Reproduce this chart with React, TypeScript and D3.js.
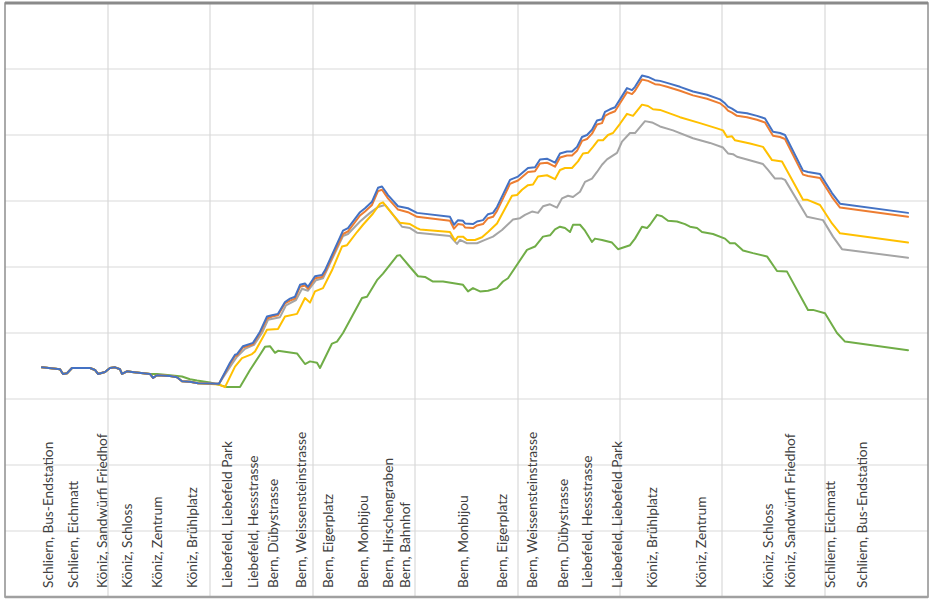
import React from "react";
import * as d3 from "d3";

type Pt = [number, number];

// x: position along the route (distance units), y: value (axis 0..900)
const blueSeries: Pt[] = [
  [0,348],[18,345],[21,338],[25,339],[30,347],[48,347],[53,344],[56,338],[63,341],[68,347],[73,348],[78,345],[80,338],[85,342],[90,341],[108,338],[111,332],[115,336],[128,335],[135,333],[140,327],[148,326],[156,324],[177,323],
  [188,355],[193,367],[195,368],[201,380],[211,385],[218,402],[225,425],[230,427],[236,429],[243,447],[248,452],[253,455],[258,473],[263,475],[266,470],[273,486],[280,488],[283,495],[301,555],[306,559],[318,583],[323,589],[330,599],[336,620],[340,622],[346,609],[356,592],[366,589],[375,582],
  [408,576],[412,564],[416,571],[421,570],[423,566],[431,565],[435,569],[441,571],[446,580],[451,582],[455,591],[468,632],[471,634],[476,637],[486,650],[493,651],[498,663],[505,664],[508,662],[513,658],[518,672],[525,675],[530,675],[535,682],[540,697],[545,700],[550,708],[555,722],[560,724],[563,735],[568,739],[573,742],[578,754],
  [585,771],[590,768],[593,773],[600,790],[606,788],[613,783],[618,782],[625,779],[638,773],[651,766],[665,761],[678,754],[683,748],[686,743],[690,740],[695,735],[705,733],[715,729],[723,725],[731,705],[738,703],[743,700],[761,646],[766,644],[778,641],[790,612],[798,596],[866,582]
];

const orangeSeries: Pt[] = [
  [0,348],[18,345],[21,338],[25,339],[30,347],[48,347],[53,344],[56,338],[63,341],[68,347],[73,348],[78,345],[80,338],[85,342],[90,341],[108,338],[111,332],[115,336],[128,335],[135,333],[140,327],[148,326],[156,324],[177,323],
  [188,353],[193,365],[195,366],[201,378],[211,383],[218,400],[225,422],[230,425],[236,427],[243,445],[248,449],[253,452],[258,470],[263,472],[266,467],[273,483],[280,485],[283,492],[301,550],[306,554],[318,578],[323,584],[330,594],[336,615],[340,617],[346,604],[356,587],[366,583],[375,576],
  [408,570],[412,558],[416,565],[421,564],[423,560],[431,559],[435,563],[441,565],[446,574],[451,576],[455,585],[468,626],[471,628],[476,631],[486,644],[493,645],[498,657],[505,658],[508,656],[513,652],[518,666],[525,669],[530,669],[535,676],[540,691],[545,694],[550,702],[555,716],[560,718],[563,729],[568,733],[573,736],[578,748],
  [585,765],[590,762],[593,767],[600,784],[606,782],[613,777],[618,776],[625,773],[638,767],[651,760],[665,755],[678,748],[683,742],[686,737],[690,734],[695,729],[705,727],[715,723],[723,719],[731,699],[738,697],[743,694],[761,640],[766,638],[778,635],[790,606],[798,590],[866,576]
];

const yellowSeries: Pt[] = [
  [0,348],[18,345],[21,338],[25,339],[30,347],[48,347],[53,344],[56,338],[63,341],[68,347],[73,348],[78,345],[80,338],[85,342],[90,341],[108,338],[111,332],[115,336],[128,335],[135,333],[140,327],[148,326],[156,324],[177,322],
  [183,318],[193,349],[200,362],[210,368],[213,372],[225,405],[236,406],[243,425],[255,429],[263,453],[268,446],[273,463],[281,468],[290,495],[300,531],[305,533],[315,553],[321,564],[331,581],[338,596],[341,598],[350,581],[358,567],[368,565],[375,559],[378,557],
  [408,553],[413,540],[416,546],[421,546],[425,541],[433,541],[440,545],[446,553],[455,566],[470,608],[475,609],[480,617],[486,624],[491,625],[496,637],[505,639],[513,633],[518,647],[523,650],[530,650],[536,660],[541,672],[546,673],[551,682],[556,692],[561,692],[566,700],[571,703],[578,717],
  [585,732],[591,729],[600,746],[606,744],[611,739],[618,738],[638,727],[658,718],[675,710],[681,707],[685,697],[690,698],[693,692],[708,687],[721,682],[730,662],[740,660],[761,602],[765,602],[778,594],[790,566],[798,551],[866,537]
];

const graySeries: Pt[] = [
  [0,348],[18,345],[21,338],[25,339],[30,347],[48,347],[53,344],[56,338],[63,341],[68,347],[73,348],[78,345],[80,338],[85,342],[90,341],[108,338],[111,332],[115,336],[128,335],[135,333],[140,327],[148,326],[156,324],[177,323],
  [190,353],[195,364],[203,376],[212,382],[220,400],[226,420],[238,424],[244,442],[254,450],[260,467],[266,464],[274,480],[281,483],[301,547],[306,550],[318,569],[328,582],[336,591],[343,594],[349,583],[360,561],[368,559],[375,552],
  [408,547],[415,535],[418,541],[425,536],[435,536],[443,541],[451,546],[460,556],[471,572],[478,574],[483,579],[490,584],[496,582],[501,592],[508,595],[515,590],[520,604],[526,608],[531,606],[538,614],[543,629],[550,634],[555,644],[560,655],[565,663],[570,668],[575,673],
  [580,690],[588,703],[593,703],[603,721],[610,719],[618,713],[631,707],[651,695],[668,688],[681,681],[686,672],[691,671],[695,667],[705,663],[721,656],[726,647],[733,634],[740,634],[743,632],[765,576],[781,571],[791,546],[800,527],[866,514]
];

const greenSeries: Pt[] = [
  [0,348],[18,345],[21,338],[25,339],[30,347],[48,347],[53,344],[56,338],[63,341],[68,347],[73,348],[78,345],[80,338],[85,342],[90,341],[108,338],[115,338],[128,336],[140,334],[148,330],[155,328],[168,325],[178,321],
  [185,318],[198,318],[208,344],[218,367],[223,379],[228,380],[233,370],[236,373],[255,369],[263,353],[268,357],[275,355],[278,347],[290,384],[295,387],[301,400],[320,453],[325,455],[335,480],[341,490],[355,517],[358,518],[368,500],[376,486],
  [383,485],[391,478],[401,478],[421,473],[426,463],[431,468],[438,463],[446,464],[455,468],[461,478],[466,483],[485,526],[493,531],[501,546],[508,548],[513,557],[518,561],[523,559],[528,553],[531,564],[538,564],[543,555],[550,538],[553,543],[560,541],[570,537],[576,527],
  [588,533],[593,543],[600,561],[605,559],[608,564],[615,579],[620,577],[626,570],[635,569],[643,565],[648,561],[655,559],[660,553],[671,550],[683,543],[688,536],[693,536],[701,525],[711,521],[725,516],[735,494],[745,493],[766,435],[771,435],[783,430],[795,400],[803,387],[866,374]
];

const stopLabels: string[] = [
  "Schliern, Bus-Endstation", "Schliern, Eichmatt", "Köniz, Sandwürfi Friedhof", "Köniz, Schloss",
  "Köniz, Zentrum", "Köniz, Brühlplatz", "Liebefeld, Liebefeld Park", "Liebefeld, Hessstrasse",
  "Bern, Dübystrasse", "Bern, Weissensteinstrasse", "Bern, Eigerplatz", "Bern, Monbijou",
  "Bern, Hirschengraben", "Bern, Bahnhof", "Bern, Monbijou", "Bern, Eigerplatz",
  "Bern, Weissensteinstrasse", "Bern, Dübystrasse", "Liebefeld, Hessstrasse", "Liebefeld, Liebefeld Park",
  "Köniz, Brühlplatz", "Köniz, Zentrum", "Köniz, Schloss", "Köniz, Sandwürfi Friedhof",
  "Schliern, Eichmatt", "Schliern, Bus-Endstation"
];
const stopPositions: number[] = [
  6, 31, 60, 85, 115, 150, 185, 211, 231, 259, 286, 321, 346, 363,
  421, 460, 490, 521, 545, 575, 610, 659, 726, 748, 788, 820
];

const yTicks: number[] = [100, 200, 300, 400, 500, 600, 700, 800];
const xGridLines: number[] = [66, 168, 271, 373, 476, 578, 680, 783];

const seriesList = [
  { name: "green", data: greenSeries, color: "#70AD47" },
  { name: "gray", data: graySeries, color: "#A5A5A5" },
  { name: "yellow", data: yellowSeries, color: "#FFC000" },
  { name: "orange", data: orangeSeries, color: "#ED7D31" },
  { name: "blue", data: blueSeries, color: "#4472C4" },
];

const W = 931;
const H = 600;

export default function App() {
  const x = d3.scaleLinear().domain([0, 866]).range([42, 908]);
  const y = d3.scaleLinear().domain([0, 900]).range([597, 3]);
  const line = d3
    .line<Pt>()
    .x((d) => x(d[0]))
    .y((d) => y(d[1]));

  const left = 5;
  const right = 928;
  const top = y(900);
  const bottom = y(0);

  return (
    <svg
      width={W}
      height={H}
      style={{ position: "absolute", left: 0, top: 0, background: "#fff" }}
    >
      <rect x={0} y={0} width={W} height={H} fill="#fff" />
      {yTicks.map((t) => (
        <line key={"h" + t} x1={left} x2={right} y1={y(t)} y2={y(t)} stroke="#d9d9d9" strokeWidth={1.2} />
      ))}
      {xGridLines.map((g) => (
        <line key={"v" + g} x1={x(g)} x2={x(g)} y1={top} y2={bottom} stroke="#d9d9d9" strokeWidth={1.2} />
      ))}
      {seriesList.map((s) => (
        <path
          key={s.name}
          d={line(s.data) || ""}
          fill="none"
          stroke={s.color}
          strokeWidth={2}
          strokeLinejoin="round"
          strokeLinecap="round"
        />
      ))}
      {stopLabels.map((lab, i) => (
        <text
          key={"l" + i}
          transform={`translate(${x(stopPositions[i])},${588}) rotate(-90)`}
          textAnchor="start"
          dy="0.35em"
          fontFamily="Lato, 'Open Sans', sans-serif"
          fontSize={13.7}
          fill="#404040"
        >
          {lab}
        </text>
      ))}
      <rect x={left} y={top} width={right - left} height={bottom - top} fill="none" stroke="#8f8f8f" strokeWidth={1.5} />
      <line x1={left} x2={right} y1={top} y2={top} stroke="#8a8a8a" strokeWidth={3} />
      <line x1={left} x2={right} y1={bottom} y2={bottom} stroke="#a0a0a0" strokeWidth={2.5} />
    </svg>
  );
}
